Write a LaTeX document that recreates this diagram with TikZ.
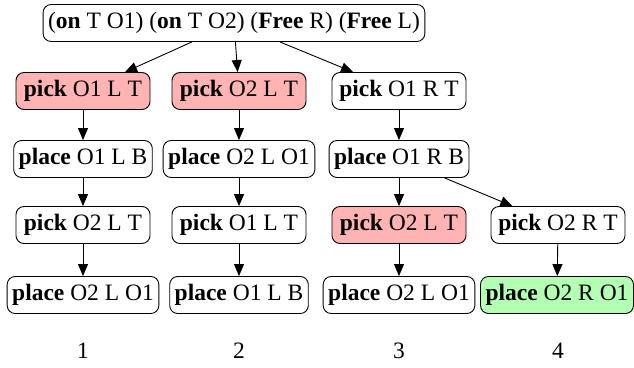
\documentclass[tikz,border=0pt]{standalone}
\usepackage{fontspec}
\setmainfont{Liberation Serif}
\usetikzlibrary{arrows.meta}
\definecolor{failred}{HTML}{FFB3B3}
\definecolor{goalgreen}{HTML}{B3FFB3}

\begin{document}
\begin{tikzpicture}[x=1pt, y=-1pt, >={Triangle[length=12pt,width=10pt]}, line width=0.9pt,
    act/.style={draw, rounded corners=8pt, minimum height=37pt, minimum width=134pt, inner xsep=5pt, font=\fontsize{23.5}{28}\selectfont},
    fail/.style={act, fill=failred},
    goal/.style={act, fill=goalgreen},
    num/.style={font=\fontsize{23.5}{28}\selectfont}]
    \useasboundingbox (0,0) rectangle (634,367);
    \node[act] (root) at (234,23) {(\textbf{on} T O1) (\textbf{on} T O2) (\textbf{Free} R) (\textbf{Free} L)};
    % branch 1
    \node[fail] (a1) at (83,91) {\textbf{pick} O1 L T};
    \node[act] (b1) at (83,159) {\textbf{place} O1 L B};
    \node[act] (c1) at (83,225) {\textbf{pick} O2 L T};
    \node[act] (d1) at (83,295) {\textbf{place} O2 L O1};
    % branch 2
    \node[fail] (a2) at (239,91) {\textbf{pick} O2 L T};
    \node[act] (b2) at (239,159) {\textbf{place} O2 L O1};
    \node[act] (c2) at (239,225) {\textbf{pick} O1 L T};
    \node[act] (d2) at (239,295) {\textbf{place} O1 L B};
    % branch 3 and 4
    \node[act] (a3) at (399,91) {\textbf{pick} O1 R T};
    \node[act] (b3) at (399,159) {\textbf{place} O1 R B};
    \node[fail] (c3) at (399,225) {\textbf{pick} O2 L T};
    \node[act] (d3) at (399,295) {\textbf{place} O2 L O1};
    \node[act] (c4) at (558,225) {\textbf{pick} O2 R T};
    \node[goal] (d4) at (557,295) {\textbf{place} O2 R O1};
    \draw[->] (root) -- (a1);
    \draw[->] (root) -- (a2);
    \draw[->] (root) -- (a3);
    \draw[->] (a1) -- (b1);
    \draw[->] (b1) -- (c1);
    \draw[->] (c1) -- (d1);
    \draw[->] (a2) -- (b2);
    \draw[->] (b2) -- (c2);
    \draw[->] (c2) -- (d2);
    \draw[->] (a3) -- (b3);
    \draw[->] (b3) -- (c3);
    \draw[->] (c3) -- (d3);
    \draw[->] (b3) -- (c4);
    \draw[->] (c4) -- (d4);
    \node[num] (n1) at (83,351) {1};
    \node[num] (n2) at (239,351) {2};
    \node[num] (n3) at (399,351) {3};
    \node[num] (n4) at (558,351) {4};
\end{tikzpicture}
\end{document}
